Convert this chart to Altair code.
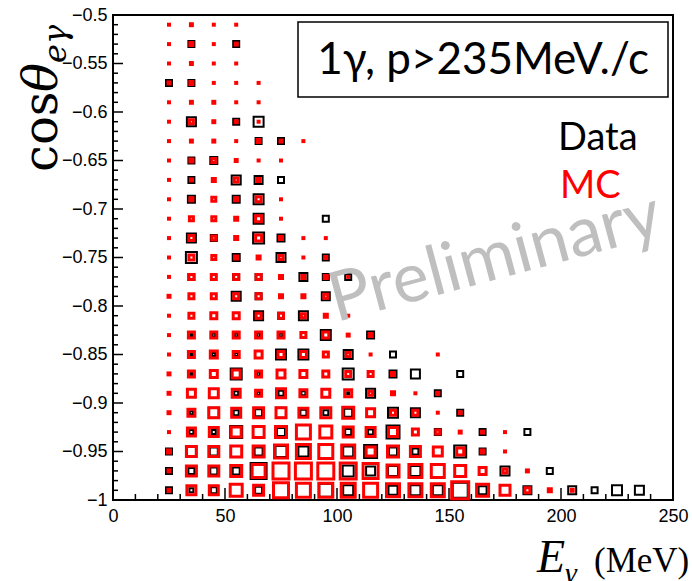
import altair as alt
import pandas as pd
import numpy as np

# bin centres
E_CENTERS = [25, 35, 45, 55, 65, 75, 85, 95, 105, 115, 125, 135, 145, 155, 165, 175, 185, 195, 205, 215, 225, 235]
COS_CENTERS = [-0.51, -0.53, -0.55, -0.57, -0.59, -0.61, -0.63, -0.65, -0.67, -0.69, -0.71, -0.73, -0.75,
               -0.77, -0.79, -0.81, -0.83, -0.85, -0.87, -0.89, -0.91, -0.93, -0.95, -0.97, -0.99]

# MC (normalised) bin contents, rows from cos=-0.51 (top) to cos=-0.99 (bottom)
MC = [
    [0.25, 0.31, 0.25, 0.25, 0, 0, 0, 0, 0, 0, 0, 0, 0, 0, 0, 0, 0, 0, 0, 0, 0, 0],
    [0.25, 0.42, 0.25, 0.31, 0, 0, 0, 0, 0, 0, 0, 0, 0, 0, 0, 0, 0, 0, 0, 0, 0, 0],
    [0.25, 0.31, 0.25, 0.25, 0, 0, 0, 0, 0, 0, 0, 0, 0, 0, 0, 0, 0, 0, 0, 0, 0, 0],
    [0.31, 0.42, 0.25, 0.25, 0.25, 0, 0, 0, 0, 0, 0, 0, 0, 0, 0, 0, 0, 0, 0, 0, 0, 0],
    [0.25, 0.31, 0.31, 0.25, 0.25, 0, 0, 0, 0, 0, 0, 0, 0, 0, 0, 0, 0, 0, 0, 0, 0, 0],
    [0.25, 0.56, 0.31, 0.31, 0.25, 0, 0, 0, 0, 0, 0, 0, 0, 0, 0, 0, 0, 0, 0, 0, 0, 0],
    [0.25, 0.31, 0.31, 0.25, 0.42, 0.31, 0.25, 0, 0, 0, 0, 0, 0, 0, 0, 0, 0, 0, 0, 0, 0, 0],
    [0.25, 0.42, 0.56, 0.31, 0.25, 0.25, 0, 0, 0, 0, 0, 0, 0, 0, 0, 0, 0, 0, 0, 0, 0, 0],
    [0.25, 0.31, 0.42, 0.56, 0.42, 0, 0, 0, 0, 0, 0, 0, 0, 0, 0, 0, 0, 0, 0, 0, 0, 0],
    [0.25, 0.42, 0.56, 0.42, 0.75, 0.25, 0, 0, 0, 0, 0, 0, 0, 0, 0, 0, 0, 0, 0, 0, 0, 0],
    [0.25, 0.56, 0.56, 0.42, 0.98, 0.25, 0, 0, 0, 0, 0, 0, 0, 0, 0, 0, 0, 0, 0, 0, 0, 0],
    [0.25, 0.75, 0.56, 0.42, 0.98, 0.42, 0.25, 0.25, 0, 0, 0, 0, 0, 0, 0, 0, 0, 0, 0, 0, 0, 0],
    [0.25, 0.75, 0.56, 0.42, 0.42, 0.56, 0.25, 0.31, 0, 0, 0, 0, 0, 0, 0, 0, 0, 0, 0, 0, 0, 0],
    [0.25, 0.75, 0.75, 0.75, 0.75, 0.42, 0.42, 0.42, 0.25, 0, 0, 0, 0, 0, 0, 0, 0, 0, 0, 0, 0, 0],
    [0.31, 0.75, 0.75, 0.75, 0.75, 0.42, 0.42, 0.56, 0, 0, 0, 0, 0, 0, 0, 0, 0, 0, 0, 0, 0, 0],
    [0.25, 0.75, 0.98, 0.98, 0.75, 0.75, 0.56, 0.42, 0.25, 0, 0, 0, 0, 0, 0, 0, 0, 0, 0, 0, 0, 0],
    [0.25, 0.98, 0.98, 0.98, 0.98, 0.98, 0.75, 0.98, 0.31, 0.42, 0, 0, 0, 0, 0, 0, 0, 0, 0, 0, 0, 0],
    [0.25, 0.98, 1.25, 0.98, 1.25, 0.98, 0.98, 0.75, 0.56, 0.25, 0, 0, 0.25, 0, 0, 0, 0, 0, 0, 0, 0, 0],
    [0.31, 0.98, 1.25, 1.56, 0.98, 1.56, 1.25, 0.98, 0.75, 0.75, 0.42, 0, 0, 0, 0, 0, 0, 0, 0, 0, 0, 0],
    [0.31, 1.56, 1.92, 1.56, 0.98, 1.92, 1.25, 1.56, 1.25, 0.56, 0.42, 0.25, 0.31, 0, 0, 0, 0, 0, 0, 0, 0, 0],
    [0.31, 1.25, 2.31, 1.92, 2.31, 2.31, 1.92, 2.31, 2.75, 1.56, 0.75, 0.75, 0.25, 0.31, 0, 0, 0, 0, 0, 0, 0, 0],
    [0.25, 1.56, 1.92, 2.31, 2.75, 2.75, 4.31, 3.23, 2.31, 1.92, 1.92, 0.98, 0.56, 0.31, 0.31, 0.25, 0, 0, 0, 0, 0, 0],
    [0.42, 2.31, 2.31, 2.75, 2.75, 3.75, 4.31, 4.31, 3.75, 1.92, 2.75, 2.31, 1.92, 1.25, 0.42, 0.25, 0, 0, 0, 0, 0, 0],
    [0.31, 2.31, 2.31, 2.75, 3.75, 5.56, 5.56, 5.56, 5.56, 4.92, 3.23, 3.75, 3.75, 2.75, 1.25, 0.56, 0.31, 0, 0, 0, 0, 0],
    [0.31, 1.92, 1.92, 3.23, 2.31, 4.92, 4.31, 4.31, 4.31, 4.31, 3.75, 3.75, 3.75, 6.25, 3.23, 2.31, 0.75, 0.42, 0.31, 0, 0, 0],
]

# Data bin contents (same normalisation), same row order
DATA = [
    [0, 0, 0, 0, 0, 0, 0, 0, 0, 0, 0, 0, 0, 0, 0, 0, 0, 0, 0, 0, 0, 0],
    [0, 0.98, 0, 0.98, 0, 0, 0, 0, 0, 0, 0, 0, 0, 0, 0, 0, 0, 0, 0, 0, 0, 0],
    [0, 0, 0, 0, 0, 0, 0, 0, 0, 0, 0, 0, 0, 0, 0, 0, 0, 0, 0, 0, 0, 0],
    [0.98, 0.98, 0, 0, 0, 0, 0, 0, 0, 0, 0, 0, 0, 0, 0, 0, 0, 0, 0, 0, 0, 0],
    [0, 0, 0, 0, 0, 0, 0, 0, 0, 0, 0, 0, 0, 0, 0, 0, 0, 0, 0, 0, 0, 0],
    [0, 1.92, 0, 0.98, 2.31, 0, 0, 0, 0, 0, 0, 0, 0, 0, 0, 0, 0, 0, 0, 0, 0, 0],
    [0, 0, 0, 0, 0.98, 0.98, 0, 0, 0, 0, 0, 0, 0, 0, 0, 0, 0, 0, 0, 0, 0, 0],
    [0, 0.98, 1.25, 0, 0, 0, 0, 0, 0, 0, 0, 0, 0, 0, 0, 0, 0, 0, 0, 0, 0, 0],
    [0, 0.98, 0, 1.92, 1.56, 0.98, 0, 0, 0, 0, 0, 0, 0, 0, 0, 0, 0, 0, 0, 0, 0, 0],
    [0, 1.25, 0, 1.25, 2.31, 0, 0, 0, 0, 0, 0, 0, 0, 0, 0, 0, 0, 0, 0, 0, 0, 0],
    [0, 0, 0, 0, 2.31, 0, 0, 0.98, 0, 0, 0, 0, 0, 0, 0, 0, 0, 0, 0, 0, 0, 0],
    [0, 1.92, 0.98, 0, 2.75, 1.25, 0, 0, 0, 0, 0, 0, 0, 0, 0, 0, 0, 0, 0, 0, 0, 0],
    [0, 2.75, 0, 1.25, 0, 1.92, 0, 0.98, 0, 0, 0, 0, 0, 0, 0, 0, 0, 0, 0, 0, 0, 0],
    [0, 0.98, 0, 0.98, 0.98, 0, 1.56, 0.98, 0.98, 0, 0, 0, 0, 0, 0, 0, 0, 0, 0, 0, 0, 0],
    [0, 0, 0, 1.92, 0.98, 0, 0, 1.56, 0, 0, 0, 0, 0, 0, 0, 0, 0, 0, 0, 0, 0, 0],
    [0, 0, 0, 0, 1.92, 0.98, 1.92, 0, 0, 0, 0, 0, 0, 0, 0, 0, 0, 0, 0, 0, 0, 0],
    [0, 0.31, 0.42, 0.42, 0.42, 0.42, 0, 2.31, 0, 1.25, 0, 0, 0, 0, 0, 0, 0, 0, 0, 0, 0, 0],
    [0, 0.31, 0.42, 0.42, 0, 2.31, 2.31, 0.75, 1.92, 0, 0.98, 0, 0, 0, 0, 0, 0, 0, 0, 0, 0, 0],
    [0, 0.31, 0, 2.75, 0.42, 0, 0, 0, 2.75, 0.75, 1.25, 1.92, 0, 0.98, 0, 0, 0, 0, 0, 0, 0, 0],
    [0, 0, 0, 0.56, 0.42, 0.75, 0.56, 0, 0.31, 1.92, 0, 0, 0.98, 0, 0, 0, 0, 0, 0, 0, 0, 0],
    [0, 0.42, 2.31, 0.75, 1.25, 2.31, 0.98, 0.75, 1.56, 0, 2.31, 1.92, 0, 0.98, 0, 0, 0, 0, 0, 0, 0, 0],
    [0, 0.56, 0.56, 3.23, 0, 1.56, 0, 0, 0.98, 0.75, 3.75, 0, 0.98, 0, 0.98, 0, 0.98, 0, 0, 0, 0, 0],
    [0.98, 1.92, 1.56, 0, 1.56, 2.75, 2.31, 0, 2.31, 3.75, 1.56, 0.98, 0, 3.23, 0.98, 0, 0, 0, 0, 0, 0, 0],
    [0.98, 0.98, 1.25, 1.25, 5.56, 0, 0, 0, 2.75, 1.92, 2.31, 2.31, 0, 0, 0, 1.92, 0, 0.98, 0, 0, 0, 0],
    [0.98, 0.56, 0.98, 0, 1.25, 0, 0, 3.75, 2.31, 0, 1.92, 2.31, 2.31, 4.92, 1.56, 0, 1.56, 0, 1.56, 0.98, 2.31, 1.92],
]

X_TICK_LABELS = [0, 50, 100, 150, 200, 250]
Y_TICK_LABELS = [-1, -0.95, -0.9, -0.85, -0.8, -0.75, -0.7, -0.65, -0.6, -0.55, -0.5]


def to_long(grid):
    recs = []
    for i, c in enumerate(COS_CENTERS):
        for j, e in enumerate(E_CENTERS):
            if grid[i][j] > 0:
                recs.append({"E": e, "cos": c, "w": grid[i][j]})
    return pd.DataFrame(recs)


df_mc = to_long(MC)
df_data = to_long(DATA)

xs = alt.Scale(domain=[0, 250], nice=False, zero=False)
ys = alt.Scale(domain=[-1, -0.5], nice=False, zero=False)
ss = alt.Scale(type="linear", domain=[0.25, 6.25], range=[1, 289], zero=False, clamp=True)

xaxis = alt.Axis(values=X_TICK_LABELS, format="d", title=None, ticks=False, domain=False, grid=False,
                 labelFont="Liberation Sans", labelFontSize=18, labelColor="black", labelPadding=7,
                 labelFlush=False, labelOverlap=False)
yaxis = alt.Axis(values=Y_TICK_LABELS, format="~g", title=None, ticks=False, domain=False, grid=False,
                 labelFont="Liberation Sans", labelFontSize=18, labelColor="black", labelPadding=6,
                 labelFlush=False, labelOverlap=False)

data_layer = alt.Chart(df_data).mark_point(shape="square", filled=False, color="black",
                                           strokeWidth=2, opacity=1).encode(
    x=alt.X("E:Q", scale=xs, axis=xaxis),
    y=alt.Y("cos:Q", scale=ys, axis=yaxis),
    size=alt.Size("w:Q", scale=ss, legend=None),
)
mc_layer = alt.Chart(df_mc).mark_point(shape="square", filled=False, color="#ff0000",
                                       strokeWidth=3, opacity=1).encode(
    x=alt.X("E:Q", scale=xs, axis=xaxis),
    y=alt.Y("cos:Q", scale=ys, axis=yaxis),
    size=alt.Size("w:Q", scale=ss, legend=None),
)

# inward ticks (ROOT style)
y_ticks = np.round(np.arange(-1.0, -0.4999, 0.01), 2)
y_major = pd.DataFrame({"cos": [v for v in y_ticks if abs(round(v / 0.05) * 0.05 - v) < 1e-6]})
y_minor = pd.DataFrame({"cos": [v for v in y_ticks if abs(round(v / 0.05) * 0.05 - v) >= 1e-6]})
x_ticks = list(range(0, 251, 10))
x_major = pd.DataFrame({"E": [v for v in x_ticks if v % 50 == 0]})
x_minor = pd.DataFrame({"E": [v for v in x_ticks if v % 50 != 0]})

tick_style = dict(color="black", strokeWidth=1.5)
ymaj = alt.Chart(y_major).mark_rule(**tick_style).encode(
    y=alt.Y("cos:Q", scale=ys, axis=yaxis), x=alt.value(0), x2=alt.value(10))
ymin = alt.Chart(y_minor).mark_rule(**tick_style).encode(
    y=alt.Y("cos:Q", scale=ys, axis=yaxis), x=alt.value(0), x2=alt.value(5))
xmaj = alt.Chart(x_major).mark_rule(**tick_style).encode(
    x=alt.X("E:Q", scale=xs, axis=xaxis), y=alt.value(485), y2=alt.value(473))
xmin = alt.Chart(x_minor).mark_rule(**tick_style).encode(
    x=alt.X("E:Q", scale=xs, axis=xaxis), y=alt.value(485), y2=alt.value(479))


def label(text, x, y, **kw):
    return alt.Chart(pd.DataFrame({"t": [text]})).mark_text(**kw).encode(
        x=alt.value(x), y=alt.value(y), text="t:N")


box = alt.Chart(pd.DataFrame({"a": [0]})).mark_rect(fill="white", stroke="black", strokeWidth=1.5).encode(
    x=alt.value(185), x2=alt.value(555), y=alt.value(7), y2=alt.value(82))
box_text = label("1γ, p>235MeV./c", 370, 46, font="Lato", fontSize=44, align="center",
                 baseline="middle", color="black")
leg_data = label("Data", 445, 135, font="Lato", fontSize=38, align="left", baseline="alphabetic", color="black")
leg_mc = label("MC", 447, 183, font="Lato", fontSize=38, align="left", baseline="alphabetic", color="#ff0000")
prelim = label("Preliminary", 382, 243, font="Lato", fontSize=69, align="center", baseline="middle",
               angle=345, color="#bfbfbf")

# axis titles
ytitle1 = label("cos", -56, 157, font="DejaVu Serif", fontSize=48, angle=270, align="left",
                baseline="alphabetic", color="black")
ytitle2 = label("θ", -56, 77, font="DejaVu Serif", fontSize=48, fontStyle="italic", angle=270,
                align="left", baseline="alphabetic", color="black")
ytitle3 = label("eγ", -47, 48, font="DejaVu Serif", fontSize=32, fontStyle="italic", angle=270,
                align="left", baseline="alphabetic", color="black")
xtitle1 = label("E", 424, 557, font="Liberation Serif", fontSize=46, fontStyle="italic", align="left",
                baseline="alphabetic", color="black")
xtitle2 = label("γ", 452, 568, font="Liberation Serif", fontSize=30, fontStyle="italic", align="left",
                baseline="alphabetic", color="black")
xtitle3 = label("(MeV)", 481, 557, font="Liberation Serif", fontSize=35, align="left",
                baseline="alphabetic", color="black")

chart = alt.layer(
    data_layer, mc_layer, ymaj, ymin, xmaj, xmin, box, box_text, leg_data, leg_mc, prelim,
    ytitle1, ytitle2, ytitle3, xtitle1, xtitle2, xtitle3,
).properties(
    width=560, height=485,
    autosize=alt.AutoSizeParams(type="none"),
    padding={"left": 113, "top": 15, "right": 19, "bottom": 81},
    background="white",
).configure_view(stroke="black", strokeWidth=2)

chart.save("out.html", embed_options={"renderer": "svg", "actions": False})
